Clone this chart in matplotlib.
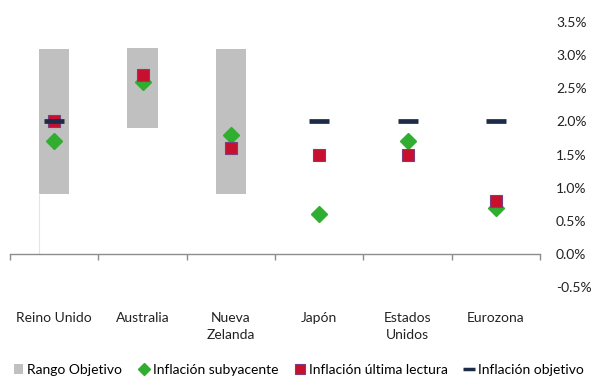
import numpy as np
import matplotlib
matplotlib.use("Agg")
import matplotlib.pyplot as plt
from matplotlib.lines import Line2D
from matplotlib.patches import Patch

plt.rcParams['font.family'] = ['Lato', 'DejaVu Sans']

paises = ["Reino Unido", "Australia", "Nueva\nZelanda", "Japón", "Estados\nUnidos", "Eurozona"]
rango_min = [0.9, 1.9, 0.9, np.nan, np.nan, np.nan]
rango_max = [3.1, 3.1, 3.1, np.nan, np.nan, np.nan]
subyacente = [1.7, 2.6, 1.8, 0.6, 1.7, 0.7]
ultima = [2.0, 2.7, 1.6, 1.5, 1.5, 0.8]
objetivo = [2.0, np.nan, np.nan, 2.0, 2.0, 2.0]
y_ticks = [-0.5, 0.0, 0.5, 1.0, 1.5, 2.0, 2.5, 3.0, 3.5]

c_rango = "#c0c0c0"
c_sub = "#2fae2f"
c_ult = "#c8102e"
c_ult_edge = "#7b3f7f"
c_obj = "#1c2b47"

fig = plt.figure(figsize=(5.92, 3.78), dpi=100)
ax = fig.add_axes([10 / 592, 91 / 378, 530 / 592, 265 / 378])

x = np.arange(len(paises))
alto = np.array(rango_max) - np.array(rango_min)
ax.bar(x, alto, bottom=rango_min, width=0.34, color=c_rango, zorder=1)
ax.vlines(x[0] - 0.17, 0, rango_min[0], color="#e4e4e4", lw=0.8, zorder=0.5)

ax.plot(x, subyacente, ls="none", marker="D", ms=8.5, color=c_sub, zorder=3)
ax.plot(x, ultima, ls="none", marker="s", ms=9, mfc=c_ult, mec=c_ult_edge, mew=0.8, zorder=4)
ax.plot(x, objetivo, ls="none", marker="_", ms=14.5, mew=3.4, color=c_obj, zorder=5)

ax.set_xlim(-0.5, len(paises) - 0.5)
ax.set_ylim(-0.5, 3.5)

for s in ["top", "left", "right"]:
    ax.spines[s].set_visible(False)
ax.spines["bottom"].set_position(("data", 0))
ax.spines["bottom"].set_color("#8c8c8c")
ax.spines["bottom"].set_linewidth(1.0)

ax.set_xticks(x)
ax.set_xticklabels(paises, fontsize=10, color="#222222", linespacing=1.45, va="top")
ax.tick_params(axis="x", which="major", length=0, pad=42)
ax.set_xticks(np.arange(-0.5, len(paises)), minor=True)
ax.tick_params(axis="x", which="minor", length=4, width=1, color="#8c8c8c", direction="out")

ax.yaxis.tick_right()
ax.set_yticks(y_ticks)
ax.set_yticklabels([f"{v:.1f}%" for v in y_ticks], fontsize=10, color="#222222")
ax.tick_params(axis="y", length=0, pad=11.5)

handles = [
    Patch(facecolor=c_rango, edgecolor="none"),
    Line2D([], [], ls="none", marker="D", ms=6, color=c_sub),
    Line2D([], [], ls="none", marker="s", ms=7, mfc=c_ult, mec=c_ult_edge, mew=0.8),
    Line2D([], [], ls="none", marker="_", ms=9, mew=2.5, color=c_obj),
]
labels = ["Rango Objetivo", "Inflación subyacente", "Inflación última lectura", "Inflación objetivo"]
fig.legend(handles, labels, loc="center", bbox_to_anchor=(0.505, 8 / 378), ncol=4,
           frameon=False, fontsize=10, handlelength=0.7, handleheight=0.7,
           handletextpad=0.3, columnspacing=1.2, borderaxespad=0)

fig.savefig("out.png", dpi=100)
